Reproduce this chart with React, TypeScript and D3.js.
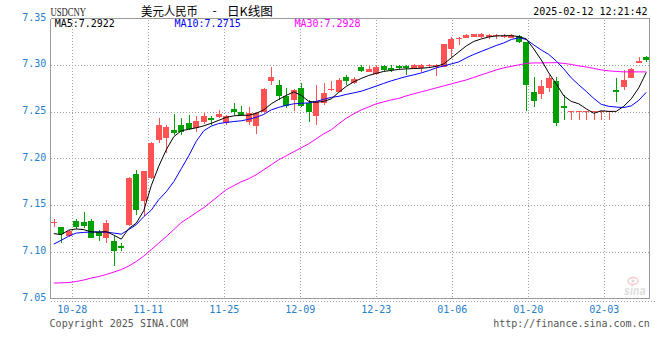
import React from 'react';
import * as d3 from 'd3';

// ---- data ----
const OPEN = [
  7.1307, 7.1267, 7.1174, 7.1334, 7.1316, 7.1334, 7.1209, 7.1149, 7.1113, 7.1062,
  7.1291, 7.1837, 7.1541, 7.1791, 7.2193, 7.2219, 7.2300, 7.2361, 7.2379, 7.2326,
  7.2386, 7.2433, 7.2443, 7.2379, 7.2529, 7.2500, 7.2396, 7.2343, 7.2503, 7.2835,
  7.2789, 7.2671, 7.2628, 7.2754, 7.2599, 7.2457, 7.2593, 7.2730, 7.2717, 7.2871,
  7.2807, 7.2984, 7.2931, 7.2906, 7.2992, 7.2967, 7.2995, 7.2992, 7.2974, 7.2967,
  7.2989, 7.2981, 7.2984, 7.3174, 7.3281, 7.3295, 7.3305, 7.3305, 7.3305, 7.3309,
  7.3302, 7.3295, 7.3316, 7.3245, 7.2717, 7.2693, 7.2760, 7.2832, 7.2567, 7.2511,
  7.2511, 7.2511, 7.2511, 7.2511, 7.2511, 7.2735, 7.2771, 7.2867, 7.3021, 7.3088,
];
const HIGH = [
  7.1356, 7.1270, 7.1238, 7.1356, 7.1427, 7.1356, 7.1238, 7.1345, 7.1166, 7.1096,
  7.1800, 7.1880, 7.1870, 7.2180, 7.2433, 7.2361, 7.2479, 7.2433, 7.2468, 7.2450,
  7.2486, 7.2457, 7.2521, 7.2468, 7.2593, 7.2564, 7.2557, 7.2495, 7.2750, 7.2984,
  7.2842, 7.2754, 7.2743, 7.2813, 7.2628, 7.2789, 7.2807, 7.2832, 7.2864, 7.2896,
  7.2878, 7.3003, 7.2992, 7.3003, 7.3003, 7.3003, 7.3003, 7.3003, 7.3014, 7.3010,
  7.3014, 7.3014, 7.3230, 7.3305, 7.3305, 7.3334, 7.3338, 7.3345, 7.3334, 7.3329,
  7.3331, 7.3329, 7.3324, 7.3252, 7.2878, 7.2842, 7.2896, 7.2878, 7.2682, 7.2511,
  7.2511, 7.2511, 7.2511, 7.2511, 7.2511, 7.2861, 7.2949, 7.2971, 7.3091, 7.3099,
];
const LOW = [
  7.1270, 7.1096, 7.1163, 7.1249, 7.1259, 7.1145, 7.1120, 7.1096, 7.0845, 7.1006,
  7.1280, 7.1398, 7.1380, 7.1780, 7.2165, 7.2058, 7.2257, 7.2254, 7.2300, 7.2289,
  7.2372, 7.2361, 7.2433, 7.2361, 7.2468, 7.2450, 7.2361, 7.2265, 7.2490, 7.2789,
  7.2628, 7.2540, 7.2514, 7.2557, 7.2396, 7.2361, 7.2575, 7.2728, 7.2711, 7.2789,
  7.2800, 7.2931, 7.2928, 7.2896, 7.2942, 7.2931, 7.2960, 7.2896, 7.2970, 7.2931,
  7.2982, 7.2885, 7.2980, 7.3074, 7.3217, 7.3291, 7.3298, 7.3288, 7.3281, 7.3281,
  7.3288, 7.3291, 7.3235, 7.2511, 7.2557, 7.2639, 7.2717, 7.2353, 7.2414, 7.2415,
  7.2415, 7.2415, 7.2415, 7.2415, 7.2415, 7.2610, 7.2735, 7.2861, 7.3021, 7.3038,
];
const CLOSE = [
  7.1324, 7.1195, 7.1220, 7.1267, 7.1273, 7.1149, 7.1166, 7.1310, 7.1006, 7.1045,
  7.1791, 7.1452, 7.1862, 7.2165, 7.2361, 7.2336, 7.2272, 7.2289, 7.2315, 7.2404,
  7.2457, 7.2414, 7.2479, 7.2450, 7.2503, 7.2471, 7.2486, 7.2486, 7.2743, 7.2878,
  7.2671, 7.2564, 7.2735, 7.2564, 7.2493, 7.2621, 7.2700, 7.2741, 7.2842, 7.2835,
  7.2850, 7.2942, 7.2957, 7.2984, 7.2949, 7.2949, 7.2967, 7.2974, 7.3003, 7.3003,
  7.3003, 7.3003, 7.3224, 7.3281, 7.3291, 7.3324, 7.3331, 7.3331, 7.3324, 7.3320,
  7.3316, 7.3324, 7.3252, 7.2789, 7.2618, 7.2778, 7.2860, 7.2379, 7.2540, 7.2511,
  7.2511, 7.2511, 7.2511, 7.2511, 7.2511, 7.2717, 7.2842, 7.2960, 7.3045, 7.3059,
];
const MA5 = [
  7.1195, 7.1184, 7.1233, 7.1245, 7.1238, 7.1213, 7.1211, 7.1217, 7.1179, 7.1136,
  7.1249, 7.1307, 7.1441, 7.1709, 7.1917, 7.2094, 7.2233, 7.2297, 7.2313, 7.2329,
  7.2350, 7.2377, 7.2409, 7.2441, 7.2457, 7.2463, 7.2463, 7.2484, 7.2521, 7.2586,
  7.2634, 7.2676, 7.2714, 7.2676, 7.2612, 7.2602, 7.2612, 7.2639, 7.2709, 7.2773,
  7.2821, 7.2858, 7.2890, 7.2912, 7.2933, 7.2944, 7.2955, 7.2960, 7.2964, 7.2967,
  7.2974, 7.2987, 7.3013, 7.3078, 7.3142, 7.3206, 7.3254, 7.3281, 7.3302, 7.3313,
  7.3316, 7.3316, 7.3307, 7.3281, 7.3174, 7.3056, 7.2917, 7.2799, 7.2671, 7.2612,
  7.2586, 7.2532, 7.2484, 7.2511, 7.2505, 7.2505, 7.2559, 7.2639, 7.2757, 7.2922,
];
const MA10 = [
  7.1083, 7.1124, 7.1168, 7.1201, 7.1208, 7.1213, 7.1213, 7.1211, 7.1201, 7.1190,
  7.1238, 7.1291, 7.1377, 7.1447, 7.1559, 7.1644, 7.1751, 7.1890, 7.2029, 7.2184,
  7.2297, 7.2347, 7.2375, 7.2386, 7.2396, 7.2404, 7.2420, 7.2441, 7.2473, 7.2521,
  7.2548, 7.2570, 7.2586, 7.2591, 7.2596, 7.2612, 7.2634, 7.2655, 7.2666, 7.2687,
  7.2703, 7.2721, 7.2748, 7.2776, 7.2805, 7.2832, 7.2856, 7.2878, 7.2896, 7.2917,
  7.2942, 7.2971, 7.2992, 7.3013, 7.3035, 7.3078, 7.3115, 7.3147, 7.3179, 7.3211,
  7.3238, 7.3275, 7.3294, 7.3275, 7.3217, 7.3163, 7.3115, 7.3045, 7.2960, 7.2864,
  7.2789, 7.2719, 7.2644, 7.2580, 7.2559, 7.2551, 7.2546, 7.2564, 7.2623, 7.2709,
];
const MA30 = [
  7.0666, 7.0668, 7.0671, 7.0682, 7.0698, 7.0719, 7.0735, 7.0757, 7.0783, 7.0810,
  7.0848, 7.0896, 7.0955, 7.1024, 7.1094, 7.1163, 7.1238, 7.1313, 7.1366, 7.1420,
  7.1473, 7.1537, 7.1602, 7.1666, 7.1709, 7.1751, 7.1783, 7.1826, 7.1880, 7.1933,
  7.1987, 7.2029, 7.2072, 7.2115, 7.2158, 7.2211, 7.2265, 7.2307, 7.2372, 7.2431,
  7.2479, 7.2521, 7.2553, 7.2586, 7.2607, 7.2628, 7.2644, 7.2671, 7.2693, 7.2714,
  7.2735, 7.2757, 7.2778, 7.2799, 7.2821, 7.2842, 7.2869, 7.2896, 7.2922, 7.2949,
  7.2971, 7.2987, 7.3003, 7.3019, 7.3024, 7.3024, 7.3026, 7.3027, 7.3019, 7.3008,
  7.2992, 7.2981, 7.2965, 7.2949, 7.2939, 7.2933, 7.2928, 7.2928, 7.2928, 7.2928,
];
const DATE_LABELS = ['10-28', '11-11', '11-25', '12-09', '12-23', '01-06', '01-20', '02-03'];
const Y_TICKS = [7.05, 7.1, 7.15, 7.2, 7.25, 7.3, 7.35];
const LEGEND = [
  { name: 'MA5', value: '7.2922' },
  { name: 'MA10', value: '7.2715' },
  { name: 'MA30', value: '7.2928' },
];

const RED = '#ff5353';
const GREEN = '#00a000';
const AXIS_BLUE = '#1f80cc';
const MONO = '"DejaVu Sans Mono", "Liberation Mono", monospace';
const CJK = '"Noto Sans CJK SC", "Noto Sans", sans-serif';

export default function App() {
  const W = 660;
  const H = 360;
  const left = 50;
  const right = 650;
  const top = 18.5;
  const bottom = 298.5;
  const n = CLOSE.length;

  const x = d3.scaleBand<number>().domain(d3.range(n)).range([left, right]).padding(0);
  const cx = (i: number) => (x(i) as number) + x.bandwidth() / 2;
  const y = d3.scaleLinear().domain([7.05, 7.35]).range([bottom, top]);
  const gx = d3.scaleLinear().domain([0, DATE_LABELS.length - 1]).range([72.3, 604.3]);

  const line = d3
    .line<number>()
    .x((_, i) => cx(i))
    .y((v) => y(v));

  const maSeries = [
    { data: MA30, color: '#ff00ff' },
    { data: MA10, color: '#0000ff' },
    { data: MA5, color: '#000000' },
  ];
  const legendColors = ['#000000', '#0000ff', '#ff00ff'];
  const legendX = [54.7, 174.5, 294.4];

  const boxRight = 649.5;

  return (
    <div style={{ position: 'absolute', left: 0, top: 0, width: W, height: H, background: '#fff' }}>
      <svg width={W} height={H} viewBox={`0 0 ${W} ${H}`} style={{ display: 'block' }}>
        <defs>
          <clipPath id="plotClip">
            <rect x={50.5} y={top} width={boxRight - 50.5} height={bottom - top} />
          </clipPath>
        </defs>
        <rect x={0} y={0} width={W} height={H} fill="#fff" />

        {/* header */}
        <text
          x={50.5}
          y={16}
          fontFamily='"Liberation Serif", serif'
          fontSize={12}
          textLength={35.5}
          lengthAdjust="spacingAndGlyphs"
          fill="#222"
        >
          USDCNY
        </text>
        <text x={141} y={15.5} fontFamily={CJK} fontSize={12} textLength={57} lengthAdjust="spacingAndGlyphs" fill="#000">
          美元人民币
        </text>
        <text x={214.5} y={15} fontFamily={CJK} fontSize={12} textAnchor="middle" fill="#000">
          -
        </text>
        <text x={227} y={15.5} fontFamily={CJK} fontSize={12} textLength={46} lengthAdjust="spacingAndGlyphs" fill="#000">
          日K线图
        </text>
        <text x={647.6} y={15} fontFamily={MONO} fontSize={10} textAnchor="end" fill="#000">
          2025-02-12 12:21:42
        </text>

        {/* grid */}
        {Y_TICKS.filter((v) => v > 7.05 && v < 7.35).map((v) => {
          const yy = Math.round(y(v)) + 0.5;
          return (
            <line
              key={`hg${v}`}
              x1={51}
              x2={boxRight}
              y1={yy}
              y2={yy}
              stroke="#a0a0a0"
              strokeDasharray="1,2"
              shapeRendering="crispEdges"
            />
          );
        })}
        {DATE_LABELS.map((d, k) => {
          const xx = Math.round(gx(k)) + 0.5;
          return (
            <line
              key={`vg${d}`}
              x1={xx}
              x2={xx}
              y1={top + 1}
              y2={bottom}
              stroke="#a0a0a0"
              strokeDasharray="1,2"
              shapeRendering="crispEdges"
            />
          );
        })}

        {/* watermark */}
        <g opacity={0.55}>
          <ellipse cx={633} cy={281} rx={5} ry={3.5} fill="none" stroke="#f3a0a0" strokeWidth={1.5} />
          <circle cx={633} cy={281} r={1.6} fill="#bbb" />
          <text
            x={624}
            y={295}
            fontFamily='"DejaVu Sans", sans-serif'
            fontStyle="italic"
            fontWeight="bold"
            fontSize={13}
            textLength={22}
            lengthAdjust="spacingAndGlyphs"
            fill="#c8c8c8"
          >
            sina
          </text>
        </g>

        {/* candles */}
        <g shapeRendering="crispEdges">
          {CLOSE.map((c, i) => {
            const o = OPEN[i];
            const up = c >= o;
            const color = up ? RED : GREEN;
            const center = Math.round(cx(i));
            const bx = center - 3;
            const yTop = Math.round(y(Math.max(o, c)));
            const yBot = Math.round(y(Math.min(o, c)));
            const hiY = Math.round(y(HIGH[i]));
            const loY = Math.round(y(LOW[i]));
            return (
              <g key={`c${i}`}>
                <rect x={center} y={hiY} width={1} height={Math.max(1, loY - hiY)} fill={color} />
                <rect x={bx} y={yTop} width={6} height={Math.max(1, yBot - yTop)} fill={color} />
              </g>
            );
          })}
        </g>

        {/* moving averages */}
        <g clipPath="url(#plotClip)">
          {maSeries.map((s, k) => (
            <path key={`ma${k}`} d={line(s.data) || ''} fill="none" stroke={s.color} strokeWidth={1} />
          ))}
        </g>

        {/* frame */}
        <g shapeRendering="crispEdges" stroke="#9a9a9a" fill="none">
          <line x1={50.5} x2={50.5} y1={top} y2={bottom} />
          <line x1={50.5} x2={boxRight} y1={top} y2={top} />
          <line x1={boxRight} x2={boxRight} y1={top} y2={bottom} />
          <line x1={50.5} x2={boxRight} y1={bottom} y2={bottom} />
        </g>
        <line
          x1={51}
          x2={655}
          y1={301.5}
          y2={301.5}
          stroke="#a0a0a0"
          strokeDasharray="1,2"
          shapeRendering="crispEdges"
        />

        {/* legend */}
        {LEGEND.map((l, k) => (
          <text key={`lg${k}`} x={legendX[k]} y={27} fontFamily={MONO} fontSize={10} fill={legendColors[k]}>
            {`${l.name}:${l.value}`}
          </text>
        ))}

        {/* y axis labels */}
        {Y_TICKS.map((v) => (
          <text
            key={`yl${v}`}
            x={46.3}
            y={y(v) + 2}
            fontFamily={MONO}
            fontSize={10}
            textAnchor="end"
            fill={AXIS_BLUE}
          >
            {v.toFixed(2)}
          </text>
        ))}

        {/* x axis labels */}
        {DATE_LABELS.map((d, k) => (
          <text
            key={`xl${d}`}
            x={gx(k)}
            y={312.7}
            fontFamily={MONO}
            fontSize={10}
            textAnchor="middle"
            fill={AXIS_BLUE}
          >
            {d}
          </text>
        ))}

        {/* footer */}
        <text x={49.6} y={327} fontFamily={MONO} fontSize={10} fill="#555">
          Copyright 2025 SINA.COM
        </text>
        <text x={649.7} y={327} fontFamily={MONO} fontSize={10} textAnchor="end" fill="#555">
          http://finance.sina.com.cn
        </text>
      </svg>
    </div>
  );
}
